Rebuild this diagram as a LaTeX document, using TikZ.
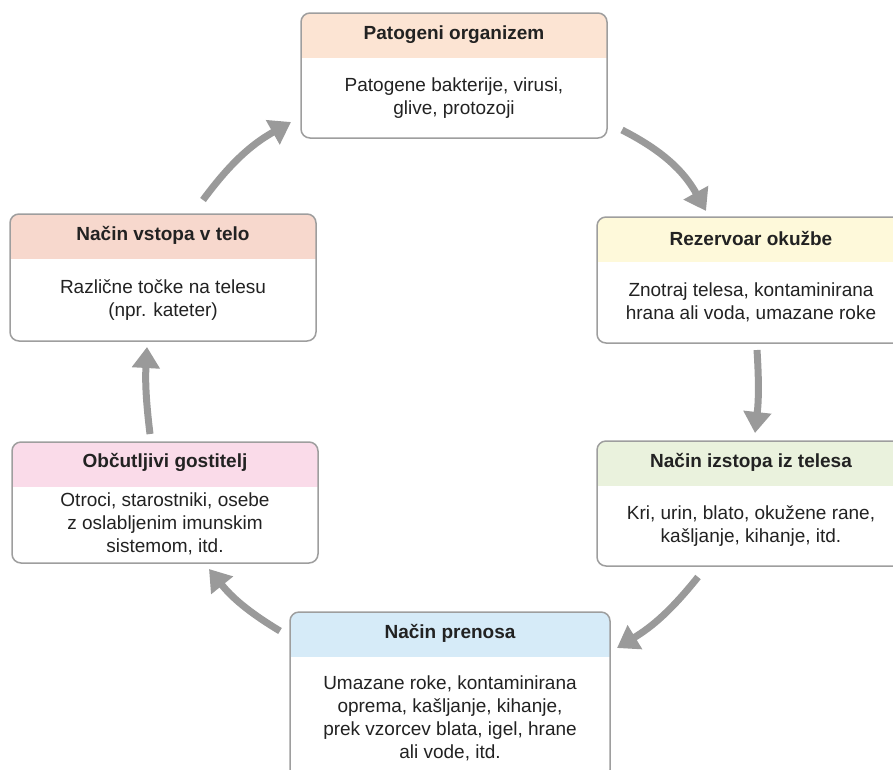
\documentclass[tikz,border=0pt]{standalone}
\usepackage{fontspec}
\setmainfont{Liberation Sans}
\usetikzlibrary{arrows.meta,calc,positioning}
\definecolor{framegray}{HTML}{9E9E9E}
\definecolor{arrowgray}{HTML}{9A9A9A}
\definecolor{textgray}{HTML}{222222}
\definecolor{hdrpat}{HTML}{FCE4D3}
\definecolor{hdrrez}{HTML}{FEF9DA}
\definecolor{hdrizs}{HTML}{EAF2DD}
\definecolor{hdrpre}{HTML}{D6EBF8}
\definecolor{hdrvst}{HTML}{F7D8CD}
\definecolor{hdrobc}{HTML}{FADBE9}
\tikzstyle{cyclebox} = [
    draw=framegray,
    line width=1.5pt,
    rounded corners=9pt,
    fill=white,
    inner sep=0pt
    ]
\tikzset{header/.style={path picture={%
    \fill[#1, sharp corners] (path picture bounding box.north west)
        rectangle ([yshift=-45pt]path picture bounding box.north east);}}}
\tikzstyle{boxtitle} = [
    font=\bfseries\fontsize{19}{23}\selectfont,
    text=textgray,
    inner sep=0pt
    ]
\tikzstyle{boxtext} = [
    font=\fontsize{19}{23}\selectfont,
    text=textgray,
    align=center,
    inner sep=0pt
    ]
\tikzstyle{cyclearrow} = [
    draw=arrowgray,
    line width=7pt,
    -{Triangle[length=21pt,width=27pt]}
    ]

\begin{document}
\begin{tikzpicture}[x=1pt,y=-1pt]
\useasboundingbox (0,0) rectangle (893,769);

% Patogeni organizem
\node[cyclebox, header=hdrpat, minimum width=306pt, minimum height=125pt] (pat) at (454,75.5) {};
\node[boxtitle] (pattitle) at ([yshift=-22.5pt]pat.north) {Patogeni organizem};
\node[boxtext] (pattext) at ($(pat.south)!0.5!([yshift=-45pt]pat.north)$) {Patogene bakterije, virusi,\\glive, protozoji};

% Rezervoar okuzbe
\node[cyclebox, header=hdrrez, minimum width=308pt, minimum height=126pt] (rez) at (751,280) {};
\node[boxtitle] (reztitle) at ([yshift=-22.5pt]rez.north) {Rezervoar okužbe};
\node[boxtext] (reztext) at ($(rez.south)!0.5!([yshift=-45pt]rez.north)$) {Znotraj telesa, kontaminirana\\hrana ali voda, umazane roke};

% Nacin izstopa
\node[cyclebox, header=hdrizs, minimum width=308pt, minimum height=125pt] (izs) at (751,503.5) {};
\node[boxtitle] (izstitle) at ([yshift=-22.5pt]izs.north) {Način izstopa iz telesa};
\node[boxtext] (izstext) at ($(izs.south)!0.5!([yshift=-45pt]izs.north)$) {Kri, urin, blato, okužene rane,\\kašljanje, kihanje, itd.};

% Nacin prenosa
\node[cyclebox, header=hdrpre, minimum width=320pt, minimum height=167pt] (pre) at (450,695.5) {};
\node[boxtitle] (pretitle) at ([yshift=-22.5pt]pre.north) {Način prenosa};
\node[boxtext] (pretext) at ($(pre.south)!0.5!([yshift=-45pt]pre.north)$) {Umazane roke, kontaminirana\\oprema, kašljanje, kihanje,\\prek vzorcev blata, igel, hrane\\ali vode, itd.};

% Obcutljivi gostitelj
\node[cyclebox, header=hdrobc, minimum width=306pt, minimum height=121pt] (obc) at (165,502.5) {};
\node[boxtitle] (obctitle) at ([yshift=-21pt]obc.north) {Občutljivi gostitelj};
\node[boxtext] (obctext) at ($(obc.south)!0.5!([yshift=-42pt]obc.north)$) {Otroci, starostniki, osebe\\z oslabljenim imunskim\\sistemom, itd.};

% Nacin vstopa
\node[cyclebox, header=hdrvst, minimum width=306pt, minimum height=127pt] (vst) at (163,277.5) {};
\node[boxtitle] (vsttitle) at ([yshift=-22.5pt]vst.north) {Način vstopa v telo};
\node[boxtext] (vsttext) at ($(vst.south)!0.5!([yshift=-45pt]vst.north)$) {Različne točke na telesu\\(npr. kateter)};

% arrow ends
\coordinate (patout) at (622,130);
\coordinate (rezin) at (706,211);
\coordinate (rezout) at (757,350);
\coordinate (izsin) at (755,433);
\coordinate (izsout) at (698,577);
\coordinate (prein) at (617,648);
\coordinate (preout) at (280,631);
\coordinate (obcin) at (209,569);
\coordinate (obcout) at (150,434);
\coordinate (vstin) at (147,347);
\coordinate (vstout) at (203,200);
\coordinate (patin) at (291,122);

\draw[cyclearrow] (patout) to[bend left=17] (rezin);
\draw[cyclearrow] (rezout) to[bend left=5] (izsin);
\draw[cyclearrow] (izsout) to[bend left=10] (prein);
\draw[cyclearrow] (preout) to[bend left=10] (obcin);
\draw[cyclearrow] (obcout) to[bend left=5] (vstin);
\draw[cyclearrow] (vstout) to[bend left=12] (patin);
\end{tikzpicture}
\end{document}
